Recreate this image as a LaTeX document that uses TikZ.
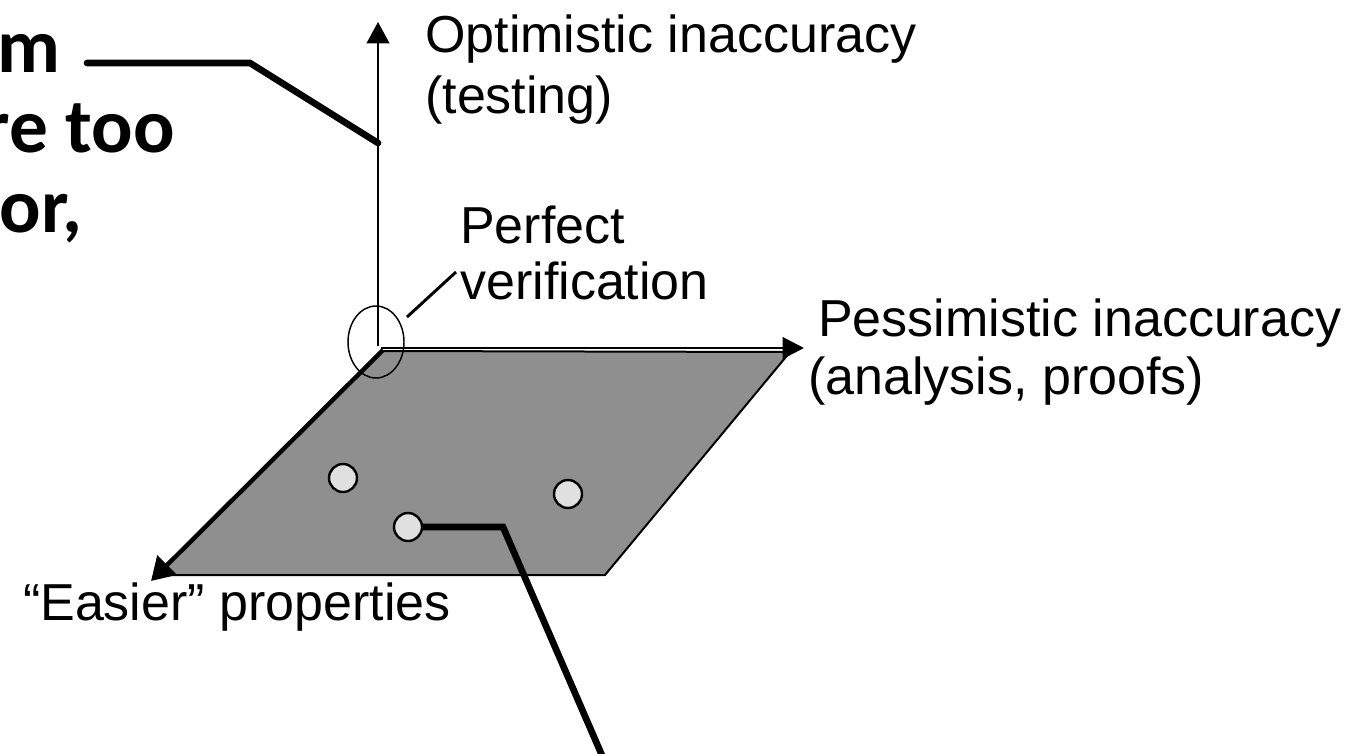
\documentclass[tikz,border=0pt]{standalone}
\usepackage{fontspec}
\setmainfont{Liberation Sans}
\newfontfamily\calloutfont{Carlito}
\usetikzlibrary{arrows.meta,shapes.geometric}

\begin{document}
\begin{tikzpicture}[x=0.75pt,y=-0.75pt,
  label/.style={inner sep=0pt,anchor=base west,font=\fontsize{39}{46}\selectfont},
  boldline/.style={inner sep=0pt,anchor=base east,font=\calloutfont\bfseries\fontsize{58}{66}\selectfont},
  plane/.style={fill=black!44,draw=black,line width=1.5pt,line join=miter},
  vaxis/.style={line width=1.5pt,-{Triangle[length=16pt,width=17pt]}},
  haxis/.style={line width=2.2pt,-{Triangle[length=16pt,width=16pt]}},
  daxis/.style={line width=3.3pt,-{Triangle[length=17pt,width=20pt]}},
  point/.style={circle,draw=black,fill=black!12,line width=1.8pt,minimum size=21pt,inner sep=0pt},
  thick callout/.style={line width=5pt,line join=miter},
  thin callout/.style={line width=2.2pt},
]
\useasboundingbox (0,0) rectangle (1370,753);
\clip (0,0) rectangle (1370,753);

% axes end points
\coordinate (O) at (380,348);
\coordinate (ytip) at (378,22);
\coordinate (xtip) at (804,348);
\coordinate (ztip) at (151,581);

% the plane of property classes
\draw[plane] (383,351) -- (790,352) -- (605,575) -- (157,575) -- cycle;

% axes
\draw[vaxis] (378,346) -- (ytip);
\draw[haxis] (381,348) -- (xtip);
\draw[daxis] (383,350) -- (ztip);

% perfect verification marker
\node[ellipse,draw=black,line width=1.1pt,minimum width=42pt,minimum height=54pt,inner sep=0pt] (pv) at (376,342) {};
\coordinate (pvA) at (407,317);
\coordinate (pvB) at (456,272);
\draw[thin callout] (pvA) -- (pvB);

% sample techniques on the plane
\node[point] (d1) at (343,478) {};
\node[point] (d2) at (408,527) {};
\node[point] (d3) at (568,494) {};

% callout from a technique
\coordinate (c2bend) at (503,527);
\coordinate (c2end) at (604,760);
\draw[thick callout] (d2.east) -- (c2bend) -- (c2end);

% callout from the text block to the vertical axis
\node[boldline] (t1) at (61,72) {m};
\node[boldline] (t2) at (175,152) {re too};
\node[boldline] (t3) at (83,232) {or,};
\coordinate (c1start) at (87,63);
\coordinate (c1bend) at (250,63);
\coordinate (c1end) at (378,143);
\draw[thick callout,line cap=round] (c1start) -- (c1bend) -- (c1end);

% axis labels
\node[label] (opt1) at (425,52) {Optimistic inaccuracy};
\node[label] (opt2) at (425,113) {(testing)};
\node[label] (perf1) at (460,243) {Perfect};
\node[label] (perf2) at (460,299) {verification};
\node[label] (pes1) at (818,336) {Pessimistic inaccuracy};
\node[label] (pes2) at (808,394) {(analysis, proofs)};
\node[label,anchor=base east] (easy) at (451,620) {“Easier” properties};
\end{tikzpicture}
\end{document}
